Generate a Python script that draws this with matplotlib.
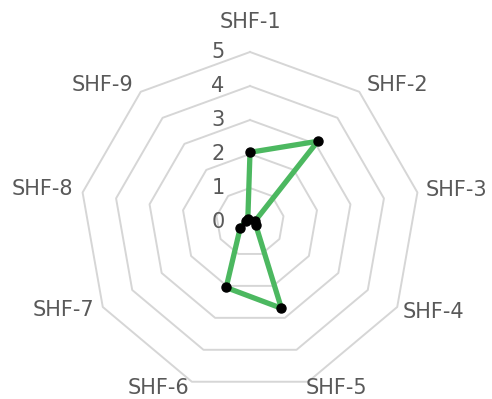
import numpy as np
import matplotlib
matplotlib.use("Agg")
import matplotlib.pyplot as plt

categories = ["SHF-1", "SHF-2", "SHF-3", "SHF-4", "SHF-5", "SHF-6", "SHF-7", "SHF-8", "SHF-9"]
values = [2.05, 3.1, 0.15, 0.2, 2.7, 2.05, 0.33, 0.12, 0.1]
ring_levels = [0, 1, 2, 3, 4, 5]
tick_labels = ["0", "1", "2", "3", "4", "5"]

# label layout (pixel offsets from the outer ring vertex, alignment)
label_offsets = [(0, 30), (7, 7), (8, 2), (5, -5), (-3, -6), (-2, -6), (-9, -3), (-9, 3), (-7, 7)]
label_ha = ["center", "left", "left", "left", "left", "right", "right", "right", "right"]

W, H = 492, 399
fig = plt.figure(figsize=(W / 100, H / 100), dpi=100)
cx, cy, R = 250, 222, 170
ax = fig.add_axes([(cx - R) / W, (H - cy - R) / H, 2 * R / W, 2 * R / H], projection="polar")
ax.set_theta_zero_location("N")
ax.set_theta_direction(-1)
ax.set_ylim(0, 5)
ax.grid(False)
ax.spines["polar"].set_visible(False)
ax.set_yticks([])
ax.set_xticks([])
ax.patch.set_alpha(0)

n = len(categories)
angles = np.linspace(0, 2 * np.pi, n, endpoint=False)
closed = np.concatenate([angles, angles[:1]])

text_color = "#595959"
fs = 15
for r in ring_levels[1:]:
    ax.plot(closed, [r] * (n + 1), color="#d6d6d6", lw=1.4, zorder=1, clip_on=False)

for r, lab in zip(ring_levels, tick_labels):
    ax.annotate(lab, xy=(0, r), xytext=(-32, 0), textcoords="offset pixels",
                ha="center", va="center", fontsize=fs, color=text_color,
                annotation_clip=False)

rmax = ring_levels[-1]
for a, lab, off, ha in zip(angles, categories, label_offsets, label_ha):
    ax.annotate(lab, xy=(a, rmax), xytext=off, textcoords="offset pixels",
                ha=ha, va="center", fontsize=fs, color=text_color,
                annotation_clip=False)

vals_closed = values + values[:1]
ax.plot(closed, vals_closed, color="#4cb860", lw=3.8, zorder=3, clip_on=False)
ax.plot(angles, values, "o", color="black", markersize=6.5, zorder=4, clip_on=False)

fig.savefig("out.png", dpi=100)
